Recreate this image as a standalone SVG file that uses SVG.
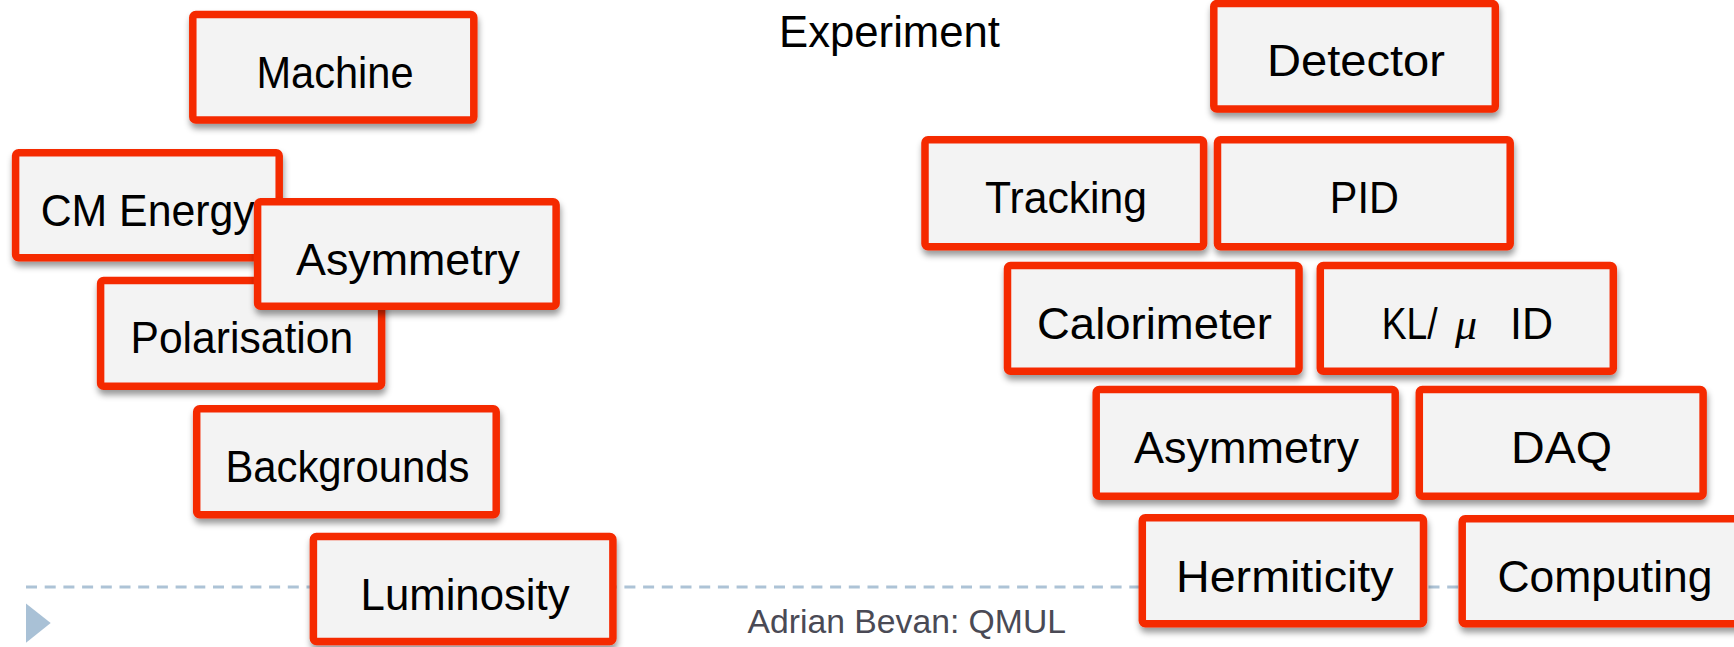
<svg xmlns="http://www.w3.org/2000/svg" width="1734" height="647" viewBox="0 0 1734 647">
<defs>
<filter id="sh" x="-10%" y="-10%" width="125%" height="140%">
<feDropShadow dx="1" dy="5" stdDeviation="3" flood-color="#000" flood-opacity="0.4"/>
</filter>
<style>
.box{fill:#f3f3f3;stroke:#f52a05;stroke-width:7.5;filter:url(#sh)}
.lbl{font-family:"Liberation Sans",Arial,sans-serif;font-size:44px;fill:#000}
.foot{font-family:"Liberation Sans",Arial,sans-serif;font-size:34px;fill:#4a4a55}
</style>
</defs>
<rect width="1734" height="647" fill="#fff"/>
<g id="footer">
<line x1="26" y1="587" x2="1708" y2="587" stroke="#adc3d6" stroke-width="3" stroke-dasharray="11 7.7"/>
<polygon points="26,603.5 50.7,623 26,642.7" fill="#a9c1d6"/>
<text class="foot" x="747.5" y="633.3" textLength="318.5" lengthAdjust="spacingAndGlyphs">Adrian Bevan: QMUL</text>
</g>
<g id="title-experiment">
<text class="lbl" x="779" y="46.7" textLength="221" lengthAdjust="spacingAndGlyphs">Experiment</text>
</g>
<g id="connectors"></g>
<g id="node-machine">
<rect class="box" x="192.8" y="14.5" width="281" height="105.6" rx="3"/>
<text class="lbl" x="256.5" y="88" textLength="157" lengthAdjust="spacingAndGlyphs">Machine</text>
</g>
<g id="node-cm-energy">
<rect class="box" x="15.6" y="152.7" width="263.6" height="105" rx="3"/>
<text class="lbl" x="40.7" y="226" textLength="214" lengthAdjust="spacingAndGlyphs">CM Energy</text>
</g>
<g id="node-polarisation">
<rect class="box" x="100.6" y="280.5" width="281" height="105.8" rx="3"/>
<text class="lbl" x="130.5" y="353.3" textLength="222.6" lengthAdjust="spacingAndGlyphs">Polarisation</text>
</g>
<g id="node-asymmetry-machine">
<rect class="box" x="257.6" y="201.7" width="298.5" height="104.5" rx="3"/>
<text class="lbl" x="296" y="275" textLength="224" lengthAdjust="spacingAndGlyphs">Asymmetry</text>
</g>
<g id="node-backgrounds">
<rect class="box" x="196.7" y="408.7" width="299.5" height="106" rx="3"/>
<text class="lbl" x="225.4" y="481.7" textLength="244" lengthAdjust="spacingAndGlyphs">Backgrounds</text>
</g>
<g id="node-luminosity">
<rect class="box" x="313.4" y="536.5" width="299.5" height="105" rx="3"/>
<text class="lbl" x="360.6" y="610" textLength="209" lengthAdjust="spacingAndGlyphs">Luminosity</text>
</g>
<g id="node-detector">
<rect class="box" x="1213.8" y="3.5" width="281.5" height="105.5" rx="3"/>
<text class="lbl" x="1267" y="76" textLength="178" lengthAdjust="spacingAndGlyphs">Detector</text>
</g>
<g id="node-tracking">
<rect class="box" x="925" y="139.8" width="278.6" height="107" rx="3"/>
<text class="lbl" x="985" y="213" textLength="162" lengthAdjust="spacingAndGlyphs">Tracking</text>
</g>
<g id="node-pid">
<rect class="box" x="1217.5" y="139.8" width="292.7" height="107" rx="3"/>
<text class="lbl" x="1329.8" y="213" textLength="69" lengthAdjust="spacingAndGlyphs">PID</text>
</g>
<g id="node-calorimeter">
<rect class="box" x="1007.5" y="265.5" width="291.5" height="105.8" rx="3"/>
<text class="lbl" x="1037" y="338.5" textLength="235" lengthAdjust="spacingAndGlyphs">Calorimeter</text>
</g>
<g id="node-kl-mu-id">
<rect class="box" x="1320.3" y="265.5" width="293" height="105.8" rx="3"/>
<text class="lbl" y="339"><tspan x="1381.7" textLength="56" lengthAdjust="spacingAndGlyphs">KL/</tspan><tspan x="1455" font-family="'Liberation Serif',serif" font-style="italic">μ</tspan><tspan x="1510" textLength="43" lengthAdjust="spacingAndGlyphs">ID</tspan></text>
</g>
<g id="node-asymmetry-detector">
<rect class="box" x="1096.2" y="389.5" width="299" height="106.8" rx="3"/>
<text class="lbl" x="1134" y="463.3" textLength="225" lengthAdjust="spacingAndGlyphs">Asymmetry</text>
</g>
<g id="node-daq">
<rect class="box" x="1419.3" y="389.5" width="283.8" height="106.8" rx="3"/>
<text class="lbl" x="1511" y="463" textLength="101" lengthAdjust="spacingAndGlyphs">DAQ</text>
</g>
<g id="node-hermiticity">
<rect class="box" x="1142.3" y="517.8" width="281.2" height="106" rx="3"/>
<text class="lbl" x="1176" y="591.7" textLength="217.6" lengthAdjust="spacingAndGlyphs">Hermiticity</text>
</g>
<g id="node-computing">
<rect class="box" x="1462.2" y="518.8" width="290" height="105" rx="3"/>
<text class="lbl" x="1497.5" y="591.7" textLength="215" lengthAdjust="spacingAndGlyphs">Computing</text>
</g>
</svg>
